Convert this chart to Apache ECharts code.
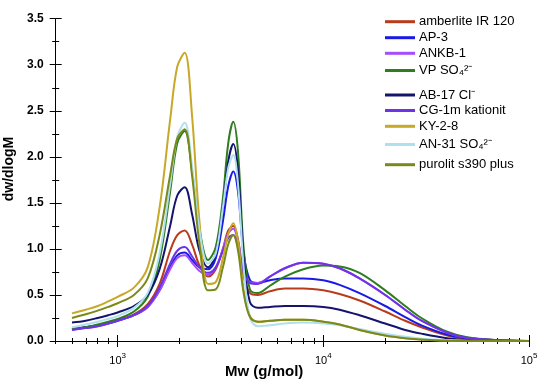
<!DOCTYPE html>
<html><head><meta charset="utf-8">
<script src="https://cdn.jsdelivr.net/npm/echarts@6/dist/echarts.min.js"></script>
<style>html,body{margin:0;padding:0;background:#fff}#c{width:550px;height:387px}</style>
</head><body><div id="c"></div>
<script>
const mw = [600,700,800,900,1000,1200,1400,1600,1800,1950,2120,2300,2500,2750,3000,3250,3450,3650,3850,4100,4400,4800,5500,6500,8000,10000,12000,15000,20000,25000,30000,40000,50000,70000,100000];
const seriesNames = ['amberlite IR 120','AP-3','ANKB-1','VP SO₄²⁻','AB-17 Cl⁻','CG-1m kationit','KY-2-8','AN-31 SO₄²⁻','purolit s390 plus'];
const amberlite = [0.13,0.15,0.17,0.20,0.23,0.29,0.40,0.62,0.98,1.15,1.20,1.05,0.82,0.70,0.78,1.0,1.20,1.25,1.10,0.70,0.52,0.50,0.54,0.57,0.57,0.55,0.51,0.44,0.32,0.22,0.15,0.06,0.025,0.005,0];
const ap3 = [0.13,0.15,0.17,0.19,0.22,0.28,0.37,0.55,0.80,0.93,0.96,0.88,0.80,0.78,0.90,1.30,1.68,1.84,1.62,0.95,0.66,0.63,0.66,0.68,0.68,0.66,0.61,0.52,0.38,0.26,0.17,0.07,0.03,0.008,0];
const ankb1 = [0.12,0.14,0.16,0.19,0.22,0.28,0.37,0.55,0.78,0.90,0.93,0.85,0.76,0.72,0.80,1.0,1.17,1.22,1.08,0.75,0.64,0.63,0.70,0.79,0.85,0.84,0.79,0.68,0.50,0.34,0.22,0.09,0.035,0.008,0];
const vpSO4 = [0.13,0.15,0.18,0.21,0.24,0.32,0.48,0.88,1.62,2.15,2.28,1.85,1.22,0.88,1.02,1.55,2.15,2.38,2.05,1.0,0.56,0.52,0.60,0.70,0.78,0.82,0.81,0.74,0.55,0.38,0.25,0.10,0.04,0.01,0];
const ab17 = [0.20,0.22,0.25,0.28,0.31,0.38,0.50,0.78,1.25,1.58,1.67,1.38,0.98,0.80,0.95,1.45,1.95,2.14,1.85,0.90,0.42,0.36,0.37,0.38,0.38,0.37,0.34,0.28,0.19,0.12,0.08,0.03,0.01,0,0];
const cg1m = [0.12,0.14,0.16,0.19,0.22,0.28,0.38,0.58,0.84,0.98,1.02,0.92,0.80,0.74,0.80,0.98,1.12,1.15,1.02,0.74,0.63,0.62,0.70,0.79,0.85,0.84,0.79,0.68,0.50,0.34,0.22,0.09,0.035,0.008,0];
const ky28 = [0.30,0.34,0.38,0.43,0.48,0.58,0.80,1.45,2.40,2.98,3.13,2.45,1.30,0.62,0.64,0.90,1.16,1.28,1.08,0.55,0.27,0.21,0.22,0.23,0.23,0.21,0.18,0.12,0.06,0.03,0.015,0.005,0,0,0];
const an31 = [0.15,0.18,0.21,0.24,0.27,0.36,0.52,0.95,1.70,2.22,2.37,1.90,1.20,0.84,0.95,1.45,1.88,2.02,1.70,0.80,0.25,0.16,0.17,0.19,0.20,0.19,0.17,0.13,0.08,0.045,0.025,0.01,0.004,0,0];
const purolit = [0.25,0.29,0.33,0.37,0.41,0.50,0.68,1.15,1.80,2.20,2.30,1.80,1.05,0.55,0.56,0.80,1.05,1.15,0.98,0.52,0.26,0.21,0.22,0.23,0.23,0.21,0.18,0.12,0.06,0.03,0.015,0.005,0,0,0];
const xMajor = [1000,10000,100000];
const xMinor = [500,600,700,800,900,2000,3000,4000,5000,6000,7000,8000,9000,20000,30000,40000,50000,60000,70000,80000,90000];
const colors = ['#b83c1c','#1a1ae6','#a64dff','#2e7d1e','#14146e','#6e33e6','#c8a828','#b0e0f0','#7a8a1a'];
const allData = [amberlite,ap3,ankb1,vpSO4,ab17,cg1m,ky28,an31,purolit];
const legendTops = [22.7,38.7,54.3,71.5,96,111.5,127.3,145.5,165.7];

const FONT = 'Liberation Sans, Arial, sans-serif';
const chart = echarts.init(document.getElementById('c'));
const G = {left:55.7, right:21, top:18.7, bottom:46};
const exps = {1000:'3',10000:'4',100000:'5'};
const tickLine = {color:'#000', width:1};
function hiddenX(gi, tick){
  return {type:'log', min:500, max:100000, gridIndex:gi, position:'bottom',
    splitLine:{show:false}, axisLine:{show:false}, axisLabel:{show:false}, axisTick:tick};
}
function hiddenY(gi, tick, minor){
  return {type:'value', min:0, max:3.5, interval:0.5, gridIndex:gi, position:'left',
    splitLine:{show:false}, axisLine:{show:false}, axisLabel:{show:false},
    axisTick:tick, minorTick:minor};
}
const mainSeries = seriesNames.map(function(n,i){
  return {name:n, type:'line', xAxisIndex:0, yAxisIndex:0, smooth:0.35, showSymbol:false, symbol:'none',
    lineStyle:{width:2,color:colors[i]}, itemStyle:{color:colors[i]},
    data: mw.map(function(m,j){return [m, allData[i][j]];})};
});
const tickHolders = [1,2,3].map(function(k){
  return {type:'line', xAxisIndex:k, yAxisIndex:k, data:[], silent:true, showSymbol:false};
});
const option = {
  animation:false,
  backgroundColor:'#fff',
  grid: [G, G, G, G],
  xAxis: [
    {type:'log', min:500, max:100000, gridIndex:0, position:'bottom', splitLine:{show:false},
      axisLine:{show:true,lineStyle:{color:'#000',width:1}},
      axisTick:{show:true,inside:false,length:6,lineStyle:tickLine,customValues:xMajor},
      axisLabel:{show:true,customValues:xMajor,margin:11,
        formatter:function(v){return '{b|10}{s|'+exps[Math.round(v)]+'}';},
        rich:{b:{fontFamily:FONT,fontSize:11,color:'#000',lineHeight:14,verticalAlign:'bottom'},
              s:{fontFamily:FONT,fontSize:8,color:'#000',lineHeight:14,verticalAlign:'top'}}}},
    hiddenX(1, {show:true,inside:true,length:6,lineStyle:tickLine,customValues:xMajor}),
    hiddenX(2, {show:true,inside:false,length:3,lineStyle:tickLine,customValues:xMinor}),
    hiddenX(3, {show:true,inside:true,length:3,lineStyle:tickLine,customValues:xMinor})
  ],
  yAxis: [
    {type:'value', min:0, max:3.5, interval:0.5, gridIndex:0, splitLine:{show:false},
      axisLine:{show:true,lineStyle:{color:'#000',width:1}},
      axisTick:{show:true,inside:false,length:6,lineStyle:tickLine},
      minorTick:{show:true,splitNumber:2,length:3.5,lineStyle:tickLine},
      axisLabel:{show:true,margin:12,fontFamily:FONT,fontSize:12,fontWeight:'bold',color:'#000',
        formatter:function(v){return v.toFixed(1);}}},
    hiddenY(1, {show:true,inside:true,length:6,lineStyle:tickLine}, {show:true,splitNumber:2,length:3.5,lineStyle:tickLine}),
    hiddenY(2, {show:false}, {show:false}),
    hiddenY(3, {show:false}, {show:false})
  ],
  legend: seriesNames.map(function(n,i){
    return {data:[n], left:385, top:legendTops[i]-7.5, padding:0, itemWidth:30, itemHeight:3, itemGap:0,
      icon:'rect', textStyle:{fontFamily:FONT,fontSize:13,color:'#000',padding:[0,0,0,-1]}};
  }),
  graphic:[
    {type:'text', left:225, top:364, style:{text:'Mw (g/mol)', font:'bold 15px '+FONT, fill:'#000'}},
    {type:'text', x:9, y:169, rotation:Math.PI/2, style:{text:'dw/dlogM', font:'bold 14px '+FONT, fill:'#000', align:'center', verticalAlign:'middle'}}
  ],
  series: mainSeries.concat(tickHolders)
};
chart.setOption(option);
</script></body></html>
